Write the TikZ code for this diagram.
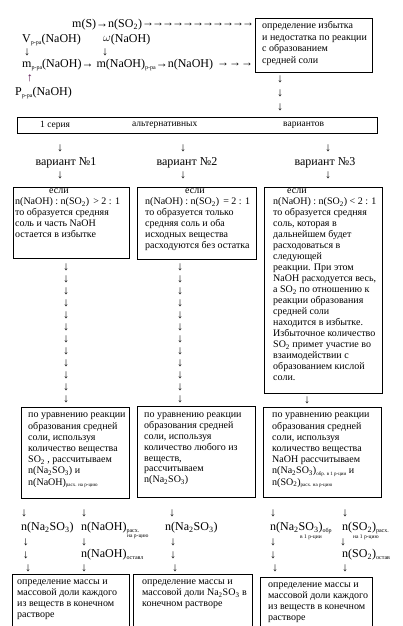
\documentclass[tikz,border=0pt]{standalone}
\usepackage{fontspec}
\setmainfont{Liberation Serif}
\newcommand\sbx[1]{\raisebox{-2pt}{\fontsize{6}{6}\selectfont #1}}
\newcommand\sbt[1]{\raisebox{-1.5pt}{\fontsize{5}{5}\selectfont #1}}
\definecolor{upcol}{RGB}{90,20,80}
\begin{document}
\begin{tikzpicture}[x=1pt,y=-1pt,
  bx/.style={draw, line width=0.9pt, inner sep=0pt, anchor=north west},
  tx/.style={anchor=north west, inner sep=0pt, align=left, font=\fontsize{10}{11}\selectfont},
  lbl/.style={anchor=west, inner sep=0pt, font=\fontsize{9.5}{11}\selectfont},
  arv/.style={inner sep=0pt, font=\fontsize{12}{12}\selectfont\bfseries},
  big/.style={anchor=west, inner sep=0pt, font=\fontsize{12}{14}\selectfont},
  var/.style={inner sep=0pt, font=\fontsize{12}{14}\selectfont}]
\useasboundingbox (0,0) rectangle (402,626);
\clip (0,0) rectangle (402,626);

% top rows
\node[big] (ms) at (72,25) {m(S)→n(SO\textsubscript{2})};
\foreach \xx [count=\k] in {148,158,...,248} \node[arv] (ra\k) at (\xx,25) {→};
\node[big] (vr) at (22,40) {V\sbx{р-ра}(NaOH)};
\node[big] (om) at (103,40) {\raisebox{1pt}{$\omega$}(NaOH)};
\node[arv] (d1) at (27,52) {↓};
\node[arv] (d2) at (105,52) {↓};
\node[big] (mr) at (22,65) {m\sbx{р-ра}(NaOH)→ m(NaOH)\sbx{р-ра}→n(NaOH)};
\foreach \xx [count=\k] in {223,235,247} \node[arv] (rb\k) at (\xx,65) {→};
\node[arv, text=upcol] (up) at (30,78) {↑};
\node[big] (pr) at (15,93) {P\sbx{р-ра}(NaOH)};

% box A
\node[bx, minimum width=117pt, minimum height=54pt] (bA) at (255,18) {};
\node[tx, font=\fontsize{10}{11.8}\selectfont] (tA) at (262,21) {определение избытка\\и недостатка по реакции\\с образованием\\средней соли};
\foreach \yy [count=\k] in {79,93,107} \node[arv] (da\k) at (280,\yy) {↓};

% series
\node[bx, minimum width=360pt, minimum height=16pt] (bS) at (17,117) {};
\node[lbl] (s1) at (40,125) {1 серия};
\node[lbl] (s2) at (132,125) {альтернативных};
\node[lbl] (s3) at (283,125) {вариантов};
\node[arv] (v1a) at (60,148) {↓};
\node[arv] (v2a) at (183,148) {↓};
\node[arv] (v3a) at (328,148) {↓};
\node[var] (v1) at (66,163) {вариант №1};
\node[var] (v2) at (187,163) {вариант №2};
\node[var] (v3) at (325,163) {вариант №3};
\node[arv] (v1b) at (60,175) {↓};
\node[arv] (v2b) at (183,175) {↓};
\node[arv] (v3b) at (328,175) {↓};

% variant boxes
\node[bx, minimum width=116pt, minimum height=71pt] (b1) at (13,187) {};
\node[tx] (t1) at (15,189) {\hspace*{34pt}если\\n(NaOH) : n(SO\textsubscript{2}) \,> 2 : 1\\то образуется средняя\\соль и часть NaOH\\остается в избытке};
\node[bx, minimum width=119pt, minimum height=72pt] (b2) at (137,187) {};
\node[tx] (t2) at (145,189) {\hspace*{40pt}если\\n(NaOH) : n(SO\textsubscript{2}) \,= 2 : 1\\то образуется только\\средняя соль и оба\\исходных вещества\\расходуются без остатка};
\node[bx, minimum width=118pt, minimum height=206pt] (b3) at (264,187) {};
\node[tx] (t3) at (273,189) {\hspace*{14pt}если\\n(NaOH) : n(SO\textsubscript{2}) < 2 : 1\\то образуется средняя\\соль, которая в\\дальнейшем будет\\расходоваться в\\следующей\\реакции. При этом\\NaOH расходуется весь,\\а SO\textsubscript{2} по отношению к\\реакции образования\\средней соли\\находится в избытке.\\Избыточное количество\\SO\textsubscript{2} примет участие во\\взаимодействии с\\образованием кислой\\соли.};

% arrow columns
\foreach \yy [count=\k] in {267,279,291,303,315,327,339,351,363,375,387,399} {
  \node[arv] (ca\k) at (66,\yy) {↓};
  \node[arv] (cb\k) at (180,\yy) {↓};
}
\node[arv] (cc) at (307,400) {↓};

% calc boxes
\node[bx, minimum width=108pt, minimum height=91pt] (b4) at (21,407) {};
\node[tx, font=\fontsize{10}{11.2}\selectfont] (t4) at (28,413) {по уравнению реакции\\образования средней\\соли, используя\\количество вещества\\SO\textsubscript{2} , рассчитываем\\n(Na\textsubscript{2}SO\textsubscript{3}) и\\n(NaOH)\sbt{расх. на р-цию}};
\node[bx, minimum width=118pt, minimum height=91pt] (b5) at (137,406) {};
\node[tx, font=\fontsize{10}{10.8}\selectfont] (t5) at (144,413) {по уравнению реакции\\образования средней\\соли, используя\\количество любого из\\веществ,\\рассчитываем\\n(Na\textsubscript{2}SO\textsubscript{3})};
\node[bx, minimum width=118pt, minimum height=90pt] (b6) at (263,407) {};
\node[tx, font=\fontsize{10}{11.2}\selectfont] (t6) at (272,413) {по уравнению реакции\\образования средней\\соли, используя\\количество вещества\\NaOH рассчитываем\\n(Na\textsubscript{2}SO\textsubscript{3})\sbt{обр. в 1 р-ции} и\\n(SO\textsubscript{2})\sbt{расх. на р-цию}};

% bottom rows
\foreach \xx/\yy [count=\k] in {24/513,84/513,172/513,273/513,345/513,
   26/542,84/542,173/542,273/542,343/542,
   26/555,173/555,273/555,
   28/568,84/568,175/568,275/568,345/568} \node[arv] (e\k) at (\xx,\yy) {↓};
\node[big] (n1) at (21,528) {n(Na\textsubscript{2}SO\textsubscript{3})};
\node[big] (n2) at (81,528) {n(NaOH)\sbx{расх.}};
\node[inner sep=0pt, anchor=west, font=\fontsize{5.5}{6}\selectfont] (n2s) at (127,537) {на р-цию};
\node[big] (n3) at (165,528) {n(Na\textsubscript{2}SO\textsubscript{3})};
\node[big] (n4) at (270,528) {n(Na\textsubscript{2}SO\textsubscript{3})\sbx{обр}};
\node[inner sep=0pt, anchor=west, font=\fontsize{5.5}{6}\selectfont] (n4s) at (300,537) {в 1 р-ции};
\node[big] (n5) at (342,528) {n(SO\textsubscript{2})\sbx{расх.}};
\node[inner sep=0pt, anchor=west, font=\fontsize{5.5}{6}\selectfont] (n5s) at (353,537) {на 1 р-цию};
\node[big] (n6) at (81,555) {n(NaOH)\sbx{оставл}};
\node[big] (n7) at (342,555) {n(SO\textsubscript{2})\sbx{остав}};

% final boxes
\node[bx, minimum width=117pt, minimum height=70pt] (b7) at (12,574) {};
\node[tx, font=\fontsize{10}{10.8}\selectfont] (t7) at (17,580) {определение массы и\\массовой доли каждого\\из веществ в конечном\\растворе};
\node[bx, minimum width=119pt, minimum height=70pt] (b8) at (133,574) {};
\node[tx, font=\fontsize{10}{10.8}\selectfont] (t8) at (142,580) {определение массы и\\массовой доли Na\textsubscript{2}SO\textsubscript{3} в\\конечном растворе};
\node[bx, minimum width=112pt, minimum height=70pt] (b9) at (260,577) {};
\node[tx, font=\fontsize{10}{10.8}\selectfont] (t9) at (268,583) {определение массы и\\массовой доли каждого\\из веществ в конечном\\растворе};
\end{tikzpicture}
\end{document}
